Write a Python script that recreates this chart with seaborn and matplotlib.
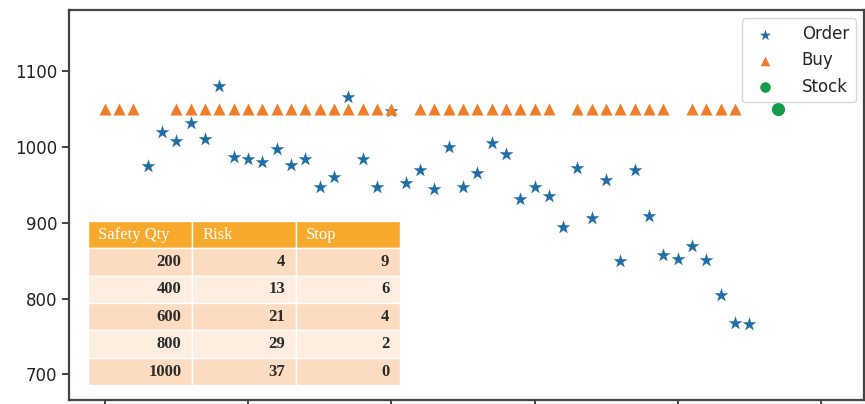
import pandas as pd
import matplotlib
matplotlib.use("Agg")
import matplotlib.pyplot as plt
import seaborn as sns

# Order quantity per day
order_day = [3, 4, 5, 6, 7, 8, 9, 10, 11, 12, 13, 14, 15, 16, 17, 18, 19, 20, 21, 22, 23, 24,
             25, 26, 27, 28, 29, 30, 31, 32, 33, 34, 35, 36, 37, 38, 39, 40, 41, 42, 43, 44, 45]
order_qty = [975, 1020, 1008, 1032, 1011, 1081, 987, 985, 980, 998, 976, 984, 948, 960, 1066,
             984, 947, 1048, 953, 970, 945, 1000, 948, 966, 1006, 991, 931, 948, 935, 895, 972,
             906, 956, 849, 970, 909, 857, 852, 870, 851, 805, 768, 766]

# Days a purchase was made (all at the buy level)
buy_day = [0, 1, 2, 5, 6, 7, 8, 9, 10, 11, 12, 13, 14, 15, 16, 17, 18, 19, 20,
           22, 23, 24, 25, 26, 27, 28, 29, 30, 31,
           33, 34, 35, 36, 37, 38, 39, 41, 42, 43, 44]
buy_level = 1050

stock_day = [47]
stock_qty = [1050]

# Table values
col_labels = ["Safety Qty", "Risk", "Stop"]
safety_qty = [200, 400, 600, 800, 1000]
risk = [4, 13, 21, 29, 37]
stop = [9, 6, 4, 2, 0]

order_df = pd.DataFrame({"day": order_day, "qty": order_qty})
buy_df = pd.DataFrame({"day": buy_day, "qty": [buy_level] * len(buy_day)})
stock_df = pd.DataFrame({"day": stock_day, "qty": stock_qty})

sns.set_style("ticks")
plt.rcParams["font.family"] = ["DejaVu Sans"]

fig = plt.figure(figsize=(8.65, 4.04), dpi=100)
ax = fig.add_axes([0.0798, 0.0099, 0.919, 0.965])

sns.scatterplot(data=order_df, x="day", y="qty", marker="*", s=110, color="#1f6fa6",
                linewidth=0, label="Order", ax=ax)
sns.scatterplot(data=buy_df, x="day", y="qty", marker="^", s=75, color="#ef7d2a",
                linewidth=0, label="Buy", ax=ax)
sns.scatterplot(data=stock_df, x="day", y="qty", marker="o", s=90, color="#149c4a",
                linewidth=0, label="Stock", ax=ax)

ax.set_xlim(-2.5, 53)
ax.set_ylim(666, 1181)
ax.set_xticks([0, 10, 20, 30, 40, 50])
ax.set_yticks([700, 800, 900, 1000, 1100])
ax.tick_params(axis="x", labelbottom=False, length=5, width=1.2)
ax.tick_params(axis="y", labelsize=12, length=5, width=1.2, colors="#222222")
ax.set_xlabel("")
ax.set_ylabel("")
for sp in ax.spines.values():
    sp.set_linewidth(1.6)
    sp.set_color("#444444")

ax.legend(loc="upper right", fontsize=12, frameon=True, handletextpad=1.2, markerscale=0.8)

cell_text = [[str(a), str(b), str(c)] for a, b, c in zip(safety_qty, risk, stop)]
tbl = ax.table(cellText=cell_text, colLabels=col_labels, cellLoc="right", colLoc="left",
               bbox=[0.024, 0.038, 0.392, 0.421])
tbl.auto_set_font_size(False)
row_colors = ["#fbdcc0", "#fdeee0"]
for (r, c), cell in tbl.get_celld().items():
    cell.set_edgecolor("white")
    cell.set_linewidth(1.0)
    txt = cell.get_text()
    txt.set_fontfamily("Liberation Serif")
    txt.set_fontsize(12)
    if r == 0:
        cell.set_facecolor("#f6a92a")
        txt.set_color("white")
    else:
        cell.set_facecolor(row_colors[(r - 1) % 2])
        txt.set_color("#2b2b2b")
        txt.set_fontweight("bold")

plt.savefig("out.png", dpi=100)
